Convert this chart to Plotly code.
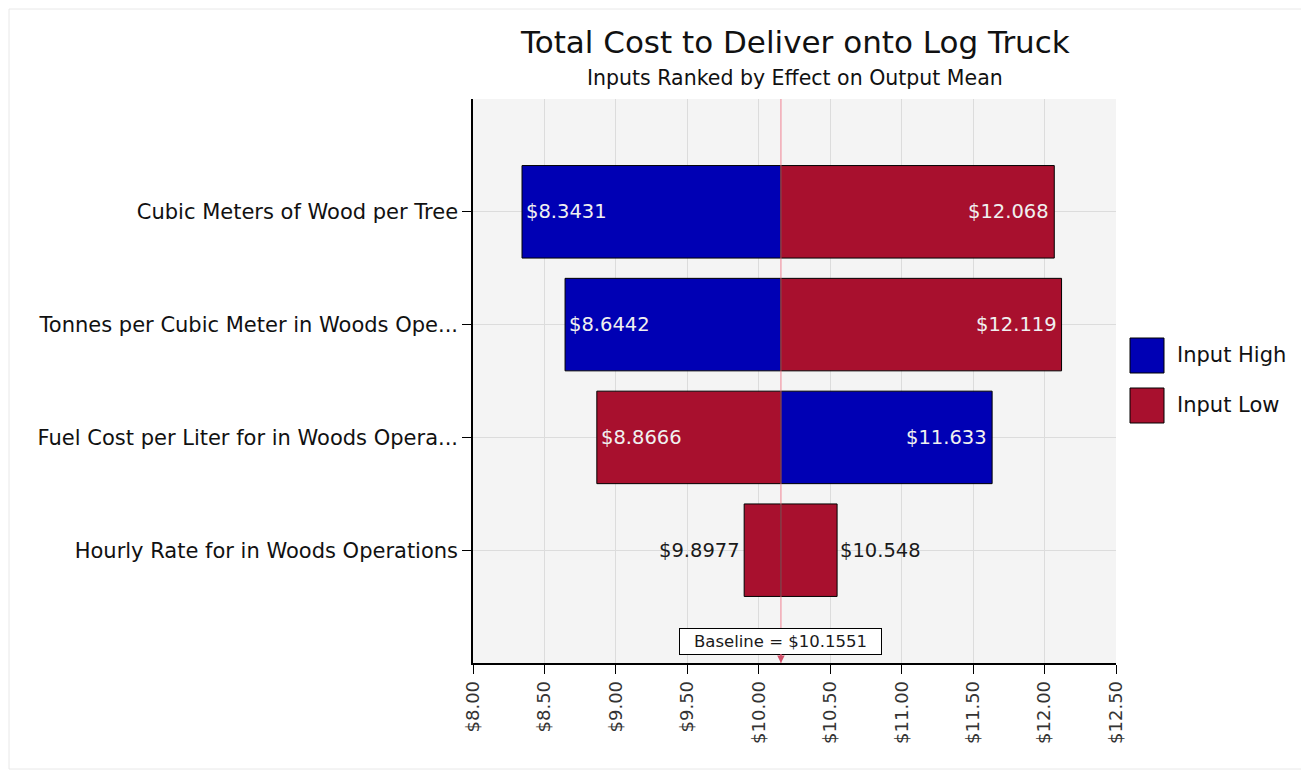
import plotly.graph_objects as go

# ---- data ----
inputs = [
    "Cubic Meters of Wood per Tree",
    "Tonnes per Cubic Meter in Woods Ope...",
    "Fuel Cost per Liter for in Woods Opera...",
    "Hourly Rate for in Woods Operations",
]
baseline = 10.1551
low_end = [8.3431, 8.6442, 8.8666, 9.8977]      # left edge value of each row
high_end = [12.068, 12.119, 11.633, 10.548]     # right edge value of each row
left_series = ["Input High", "Input High", "Input Low", "Input Low"]
right_series = ["Input Low", "Input Low", "Input High", "Input Low"]
low_labels = ["$8.3431", "$8.6442", "$8.8666", "$9.8977"]
high_labels = ["$12.068", "$12.119", "$11.633", "$10.548"]
label_inside = [True, True, True, False]
x_ticks = [8.0, 8.5, 9.0, 9.5, 10.0, 10.5, 11.0, 11.5, 12.0, 12.5]
x_ticktext = ["$8.00", "$8.50", "$9.00", "$9.50", "$10.00", "$10.50", "$11.00", "$11.50", "$12.00", "$12.50"]

colors = {"Input High": "#0000b4", "Input Low": "#a8102e"}
FONT = "DejaVu Sans"

ypos = list(range(len(inputs)))

# page offset: the html body adds an 8px margin
OFF = 8
FIG_W, FIG_H = 1309 - OFF, 770 - OFF
L, T, W, H = 473 - OFF, 99 - OFF, 643, 564   # plot area in figure pixels

fig = go.Figure()
# left segments (from low value up to baseline)
fig.add_trace(go.Bar(
    y=ypos, x=[baseline - v for v in low_end], base=low_end, orientation="h",
    marker=dict(color=[colors[s] for s in left_series], line=dict(color="black", width=1)),
    width=0.82, showlegend=False, hoverinfo="skip",
))
# right segments (from baseline up to high value)
fig.add_trace(go.Bar(
    y=ypos, x=[v - baseline for v in high_end], base=[baseline] * len(high_end), orientation="h",
    marker=dict(color=[colors[s] for s in right_series], line=dict(color="black", width=1)),
    width=0.82, showlegend=False, hoverinfo="skip",
))

annotations = []
for i in ypos:
    inside = label_inside[i]
    annotations.append(dict(
        x=low_end[i], y=i, xref="x", yref="y", text=low_labels[i], showarrow=False,
        xanchor="left" if inside else "right", xshift=2 if inside else -2,
        font=dict(family=FONT, size=19.5, color="#f0f0f0" if inside else "#1a1a1a"),
    ))
    annotations.append(dict(
        x=high_end[i], y=i, xref="x", yref="y", text=high_labels[i], showarrow=False,
        xanchor="right" if inside else "left", xshift=-3 if inside else 1,
        font=dict(family=FONT, size=19.5, color="#f0f0f0" if inside else "#1a1a1a"),
    ))

# baseline annotation with arrow
annotations.append(dict(
    x=baseline, y=4, xref="x", yref="y", text="Baseline = $" + f"{baseline:.4f}",
    showarrow=True, ax=0, ay=-22, arrowhead=2, arrowsize=1, arrowwidth=1.5,
    arrowcolor="#d0506a", bgcolor="white", bordercolor="black", borderwidth=1,
    borderpad=1, width=199, height=23, standoff=0,
    font=dict(family=FONT, size=16.5, color="#1a1a1a"),
))

# title / subtitle
annotations.append(dict(x=0.5, y=1.0, xref="paper", yref="paper", yshift=57,
                        text="Total Cost to Deliver onto Log Truck", showarrow=False,
                        font=dict(family=FONT, size=31, color="#111111"), yanchor="middle"))
annotations.append(dict(x=0.5, y=1.0, xref="paper", yref="paper", yshift=21,
                        text="Inputs Ranked by Effect on Output Mean", showarrow=False,
                        font=dict(family=FONT, size=20.5, color="#111111"), yanchor="middle"))


def px_x(p):
    return (p - OFF - L) / W


def px_y(p):
    return (T + H - (p - OFF)) / H


shapes = []
# legend drawn manually
legend_items = ["Input High", "Input Low"]
for k, name in enumerate(legend_items):
    top = 338 + k * 50
    shapes.append(dict(type="rect", xref="paper", yref="paper",
                       x0=px_x(1130), x1=px_x(1164), y0=px_y(top + 35), y1=px_y(top),
                       fillcolor=colors[name], line=dict(color="black", width=1)))
    annotations.append(dict(x=px_x(1175), y=px_y(top + 17), xref="paper", yref="paper",
                            text=name, showarrow=False, xanchor="left", yanchor="middle",
                            font=dict(family=FONT, size=21, color="#111111")))

# baseline vertical line
shapes.append(dict(type="line", xref="x", yref="y", x0=baseline, x1=baseline, y0=-1, y1=4,
                   line=dict(color="rgba(240,110,130,0.85)", width=1), layer="above"))

# outer frame
shapes.append(dict(type="rect", xref="paper", yref="paper",
                   x0=px_x(9), x1=px_x(1302), y0=px_y(769), y1=px_y(9),
                   line=dict(color="#e8e8e8", width=1), fillcolor="rgba(0,0,0,0)", layer="below"))

fig.update_layout(
    width=FIG_W, height=FIG_H,
    margin=dict(l=L, r=FIG_W - L - W, t=T, b=FIG_H - T - H),
    paper_bgcolor="white", plot_bgcolor="#f4f4f4",
    barmode="overlay", showlegend=False,
    annotations=annotations, shapes=shapes,
    font=dict(family=FONT, color="#111111"),
)
fig.update_xaxes(
    range=[8.0, 12.5], tickvals=x_ticks, ticktext=x_ticktext, tickangle=-90,
    showgrid=True, gridcolor="#dcdcdc", gridwidth=1, zeroline=False,
    showline=True, linecolor="black", linewidth=1.5, ticks="outside", ticklen=9,
    tickcolor="black", tickfont=dict(family=FONT, size=18, color="#333333"),
)
fig.update_yaxes(
    range=[4, -1], tickvals=ypos, ticktext=inputs,
    showgrid=True, gridcolor="#dcdcdc", zeroline=False,
    showline=True, linecolor="black", linewidth=1.5, ticks="outside", ticklen=9,
    tickcolor="black", tickfont=dict(family=FONT, size=21, color="#111111"),
)

fig.write_html("out.html")
